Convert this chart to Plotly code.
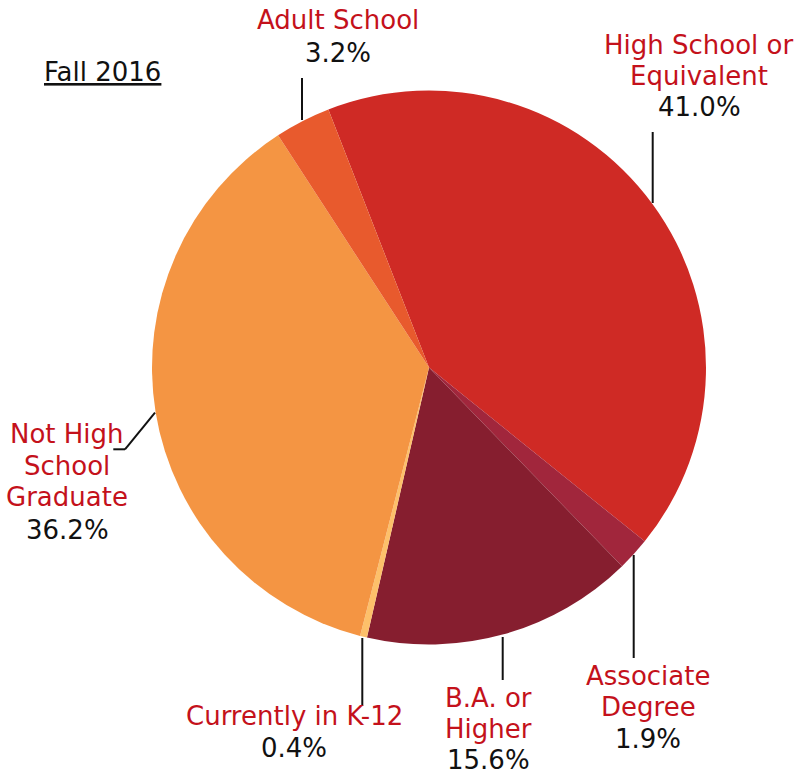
import plotly.graph_objects as go

# ---- data ----
categories = ["High School or Equivalent", "Associate Degree", "B.A. or Higher",
              "Currently in K-12", "Not High School Graduate", "Adult School"]
values = [41.0, 1.9, 15.6, 0.4, 36.2, 3.2]
value_labels = ["41.0%", "1.9%", "15.6%", "0.4%", "36.2%", "3.2%"]
name_lines = [["High School or", "Equivalent"], ["Associate", "Degree"], ["B.A. or", "Higher"],
              ["Currently in K-12"], ["Not High", "School", "Graduate"], ["Adult School"]]
slice_colors = ["#CF2A25", "#A1263C", "#861E2F", "#FDC06A", "#F49543", "#E85A2D"]
title_text = "Fall 2016"

W, H = 797, 774
RED = "#C4111B"
FONT = "DejaVu Sans"
FS = 26


def px(x):
    return x / W


def py(y):
    return 1 - y / H


fig = go.Figure(go.Pie(
    labels=categories, values=values, sort=False, direction="clockwise",
    rotation=-21.3, marker=dict(colors=slice_colors, line=dict(width=0)),
    textinfo="none", hoverinfo="skip", showlegend=False,
    domain=dict(x=[px(152), px(706)], y=[py(644.6), py(90.6)]),
))

# label layout: (center x, first baseline, line spacing) in pixels
label_pos = [(699, 54, 31.5), (648, 685, 31.5), (488, 707, 31),
             (294, 725, 32), (67, 443, 32), (338, 29, 33)]

annotations = []
for (cx, b0, dy), lines, val in zip(label_pos, name_lines, value_labels):
    for i, t in enumerate(lines + [val]):
        color = RED if i < len(lines) else "#111111"
        annotations.append(dict(
            x=px(cx), y=py(b0 + i * dy - 9.5), xref="paper", yref="paper",
            text=t, showarrow=False, xanchor="center", yanchor="middle",
            font=dict(family=FONT, size=FS, color=color)))

annotations.append(dict(
    x=px(42), y=py(82 - 10), xref="paper", yref="paper", text="<u>" + title_text + "</u>",
    showarrow=False, xanchor="left", yanchor="middle",
    font=dict(family=FONT, size=FS, color="#111111")))

leader_lines = [
    [(652.7, 132), (652.7, 203)],
    [(633.7, 555), (633.7, 658)],
    [(502.7, 637), (502.7, 680)],
    [(362.3, 638), (362.3, 706)],
    [(155, 412.7), (125, 449.3), (113.3, 449.3)],
    [(302, 78), (302, 120)],
]
shapes = []
for pts in leader_lines:
    for (x0, y0), (x1, y1) in zip(pts[:-1], pts[1:]):
        shapes.append(dict(type="line", xref="paper", yref="paper",
                           x0=px(x0), y0=py(y0), x1=px(x1), y1=py(y1),
                           line=dict(color="#111111", width=2)))

fig.update_layout(
    width=W, height=H, margin=dict(l=0, r=0, t=0, b=0),
    paper_bgcolor="white", plot_bgcolor="white",
    annotations=annotations, shapes=shapes,
)

fig.write_html(
    "out.html",
    config={"displayModeBar": False, "staticPlot": True},
    post_script="document.body.style.margin='0';document.body.style.overflow='hidden';",
)
